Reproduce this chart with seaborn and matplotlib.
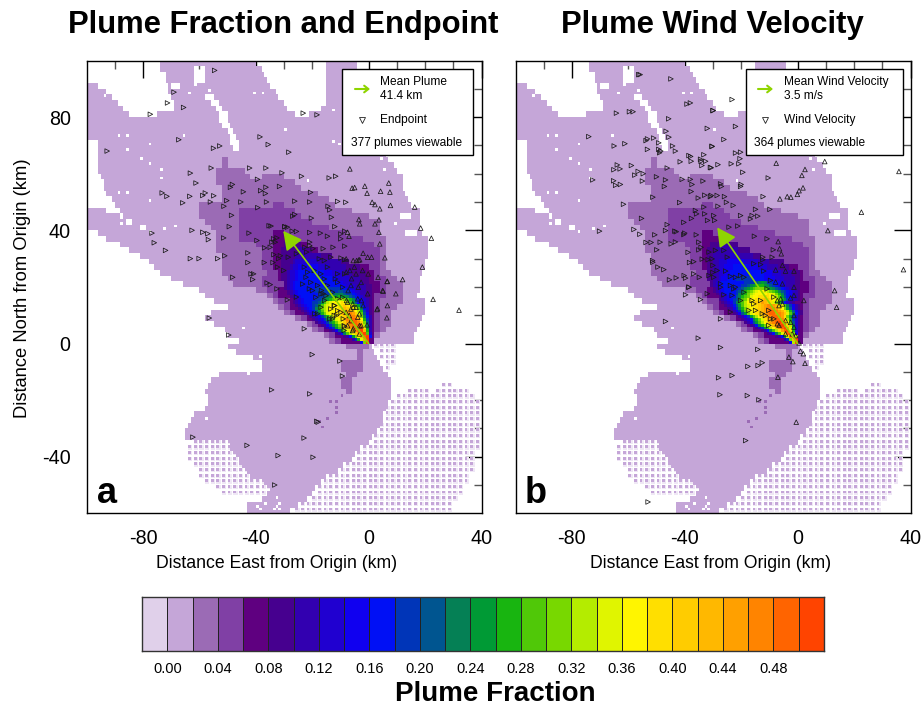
import numpy as np
import seaborn as sns
import matplotlib.pyplot as plt
from matplotlib.colors import ListedColormap
from matplotlib.lines import Line2D
from matplotlib.patches import FancyArrowPatch, Rectangle

# colour per level, first box of the colour bar is level 0
LEVEL_COLORS = ["#e0d0ea", "#c5a6d8", "#9b6bb5", "#8040a5", "#5f0080", "#46008f", "#3200b0",
                "#2000d0", "#1000f0", "#0010f5", "#0035b8", "#005590", "#058055", "#009a35",
                "#18b510", "#50c808", "#78d800", "#b4ec00", "#e0f500", "#fff500", "#ffdf00",
                "#ffcc00", "#ffb800", "#ffa000", "#ff8400", "#ff6400", "#ff4400"]
RIM_COLOR = "#efe7f5"
CBAR_LABELS = ["0.00", "0.04", "0.08", "0.12", "0.16", "0.20", "0.24", "0.28", "0.32",
               "0.36", "0.40", "0.44", "0.48"]

# level 1 coverage, row centre (km north): spans km east, rows are 2 km tall
outer_rows = {
    99: [(-74, -40), (-15, -4)], 97: [(-74, -38), (-15, -4)], 95: [(-72, -37), (-15, -4)],
    93: [(-72, -36), (-15, -3)], 91: [(-100, -96), (-71, -35), (-15, -2)],
    89: [(-100, -93), (-71, -33), (-15, -1)], 87: [(-100, -91), (-70, -32), (-15, 0)],
    85: [(-100, -89), (-69, -30), (-15, 1)], 83: [(-100, -87), (-69, -29), (-17, 2)],
    81: [(-100, -85), (-75, -26), (-21, 3)], 79: [(-100, 4)], 77: [(-100, 4)], 75: [(-100, 4)],
    73: [(-100, 5)], 71: [(-96, 5)], 69: [(-96, 6)], 67: [(-96, 6)], 65: [(-96, 7)],
    63: [(-96, 9)], 61: [(-96, 10)], 59: [(-95, 12)], 57: [(-94, 12)], 55: [(-94, 12)],
    53: [(-93, 13)], 51: [(-91, 14)], 49: [(-90, 15)], 47: [(-100, -93), (-88, 18)],
    45: [(-100, -88), (-87, 18)], 43: [(-100, -86), (-84, 18)], 41: [(-100, -81), (-79, 18)],
    39: [(-96, 19)], 37: [(-93, 21)], 35: [(-88, 21)], 33: [(-85, 21)], 31: [(-81, 21)],
    29: [(-78, 20)], 27: [(-76, 20)], 25: [(-74, 19)], 23: [(-70, 18)], 21: [(-66, 18)],
    19: [(-60, 18)], 17: [(-58, 17)], 15: [(-55, 20)], 13: [(-50, 20)], 11: [(-56, 20)],
    9: [(-58, 19)], 7: [(-55, 18)], 5: [(-51, 17)], 3: [(-50, 16)], 1: [(-46, 16)],
    -1: [(-50, 1)], -3: [(-47, 2)], -5: [(-41, 3)], -7: [(-38, 4)], -9: [(-38, 5)],
    -11: [(-53, 7)], -13: [(-56, 8)], -15: [(-57, 8)], -17: [(-58, 8)], -19: [(-57, 8)],
    -21: [(-57, 7)], -23: [(-58, 6)], -25: [(-62, 5)], -27: [(-63, 5)], -29: [(-64, 4)],
    -31: [(-65, 3)], -33: [(-65, 1)], -35: [(-49, 0)], -37: [(-49, -3)], -39: [(-47, -5)],
    -41: [(-46, -6)], -43: [(-45, -9)], -45: [(-43, -11)], -47: [(-42, -15)], -49: [(-37, -17)],
    -51: [(-35, -19)], -53: [(-36, -20)], -55: [(-38, -22)], -57: [(-43, -25)], -59: [(-43, -28)],
}
# far field where only every other km has a value
dotted_rows = {
    -1: [(2, 10)], -3: [(3, 10)], -5: [(4, 10)], -7: [(5, 10)], -9: [(6, 8)],
    -15: [(25, 30)], -17: [(14, 22), (23, 36)], -19: [(9, 38)], -21: [(8, 40)], -23: [(6, 40)],
    -25: [(5, 40)], -27: [(5, 40)], -29: [(4, 40)], -31: [(4, 40)], -33: [(2, 40)],
    -35: [(-63, -49), (1, 40)], -37: [(-64, -49), (-2, 39)], -39: [(-65, -47), (-4, 38)],
    -41: [(-65, -46), (-5, 38)], -43: [(-63, -45), (-8, 38)], -45: [(-61, -43), (-10, 37)],
    -47: [(-60, -42), (-14, 35)], -49: [(-58, -37), (-16, 35)], -51: [(-55, -35), (-18, 34)],
    -53: [(-52, -36), (-19, 33)], -55: [(-21, 31)], -57: [(-24, 30)], -59: [(-27, 30)],
}
# white channel through the upper lobe
channel_rows = {97: (-62, -58), 95: (-62, -58), 93: (-62, -58), 91: (-70, -67), 87: (-58, -55),
                85: (-56, -53), 83: (-54, -52), 81: (-53, -50), 79: (-53, -50), 77: (-52, -49),
                75: (-50, -48), 73: (-49, -47), 71: (-49, -46), 69: (-48, -46), 45: (11, 15),
                39: (13, 17)}
hole_x = [-86, -86, -89, -94, -74, -74, -78, -66, -81, -78, -89, -86, -78, -69, -78, -73, -88,
          -41, -38, -64, -62, -57, -13, -13, -11, -30, 5, -22, 9, 4, -39, -58, -45, -43,
          -33, -32, -33, -34, -32, -37, -39, -40]
hole_y = [73, 68, 73, 87, 61, 58, 70, 73, 65, 63, 53, 53, 50, 41, 39, 40, 42,
          88, 88, 88, 91, 89, 82, 71, 70, 75, 61, 57, 42, 65, -5, -27, 5, -11,
          -55, -57, -58, -59, -59, -57, -59, -58]
spot_x = [-10, -14, -12, -12, -12, -18, -15, -17]
spot_y = [-19, -21, -21, -23, -25, -28, -27, -30]

# shared levels 2-4: one char per 2 km from 62 km west, count*level
mid_rows = {
    65: "5*. 1*2", 63: "5*. 1*2", 61: "4*. 5*2", 59: "4*. 6*2 2*. 4*2", 57: "4*. 14*2",
    55: "5*. 14*2", 53: "5*. 17*2", 51: "5*. 19*2", 49: "1*. 13*2 2*3 9*2",
    47: "1*. 7*2 10*3 10*2", 45: "1*. 7*2 11*3 12*2", 43: "2*. 6*2 13*3 12*2",
    41: "3*. 5*2 16*3 9*2", 39: "4*. 4*2 6*3 2*4 11*3 6*2", 37: "4*. 4*2 6*3 4*4 12*3 4*2",
    35: "4*. 7*2 3*3 6*4 12*3 2*2", 33: "4*. 8*2 2*3 8*4 11*3 1*2",
    31: "5*. 7*2 2*3 10*4 9*3 1*2", 29: "5*. 7*2 2*3 13*4 6*3 1*2",
    27: "5*. 7*2 2*3 17*4 2*3 1*2", 25: "5*. 8*2 2*3 17*4 1*3 2*2",
    23: "6*. 6*2 3*3 17*4 2*3 2*2", 21: "7*. 5*2 4*3 17*4 1*3 3*2",
    19: "11*. 2*2 2*3 18*4 1*3 3*2", 17: "13*. 1*2 1*3 17*4 2*3 3*2",
    15: "14*. 1*2 2*3 15*4 1*3 4*2", 13: "15*. 1*2 1*3 15*4 1*3 3*2",
    11: "16*. 1*2 1*3 14*4 1*3 2*2", 9: "18*. 1*2 1*3 12*4 1*3 2*2",
    7: "20*. 1*2 1*3 10*4 1*3 2*2", 5: "21*. 1*2 1*3 9*4 1*3 1*2", 3: "23*. 1*2 1*3 7*4 1*2",
    1: "24*. 1*2 1*3 6*4", -1: "27*. 4*2", -3: "29*. 1*2", -5: "29*. 1*2", -7: "26*. 4*2",
    -9: "26*. 4*2", -11: "27*. 2*2", -13: "26*. 2*2", -15: "26*. 2*2", -17: "27*. 1*2",
}

# plume core, base-36 levels. upper rows are 2 km tall, lower rows 1 km: y, first km east, cells
core_a_upper = [
    (35, -30, "555555"), (33, -31, "55555566555"), (31, -31, "555556666666665555"),
    (29, -31, "555567777777766666666555"),
    (27, -31, "5556778888888777766666655555"),
    (25, -31, "556778999999999888777766655555"),
    (23, -31, "5567789999999999998877776666555"),
]
core_a_lower = [
    (21, -30, "567899999999999999988777666655"),
    (20, -30, "5678999999999999999988777666655"),
    (19, -30, "56789999999aaaaaaaaa99887766655"),
    (18, -29, "5678999999aaaaaaaabbaa98776655"),
    (17, -29, "56789999999aaaabbcccbaa9876655"),
    (16, -28, "5678999999aabccddeddcba987655"),
    (15, -27, "56789999aabcdefghhgfeca98765"),
    (14, -27, "5678999aabdfhijjjkjhfdb98765"),
    (13, -26, "567899abdfhijjjkklkjhfda865"),
    (12, -25, "56789aceghijjjklmlkjhfc975"),
    (11, -24, "56789bdfhijjkkmnnmljhea75"),
    (10, -23, "5678acegijjkkmnnonlifb85"),
    (9, -21, "5678acegijkklnoonkgc96"),
    (8, -20, "5678acegijkmooppnjea6"),
    (7, -19, "5678acegijlnpppolgb6"),
    (6, -17, "568acegikmopppnhc6"),
    (5, -16, "568adfhjlnoppqkd6"),
    (4, -14, "568begikmopqme6"),
    (3, -12, "569cfhjlnpqf7"),
    (2, -9, "569dgjmpq9"),
    (1, -6, "6aeinq"),
    (0, -3, "8gq"),
]
core_b_upper = [
    (35, -31, "5556666555"), (33, -32, "555666666665555"), (31, -32, "5566666677766666555"),
    (29, -32, "556677788888877777666655555"), (27, -32, "55667788899999888877766665555"),
    (25, -32, "556677889999999999998887776666555"),
    (23, -32, "5566788999aaaaaa99998888777666655"),
]
core_b_lower = [
    (21, -31, "567899999999aaaabcdcaa9987766655"),
    (20, -31, "56789999999aabcdeeedcba987766655"),
    (19, -30, "567899999abcdefgggfedcba9876655"),
    (18, -30, "56789999abcefghijjihgfecba98765"),
    (17, -29, "5678999acdeghijjjjkjigeca98765"),
    (16, -28, "567899bcefgijjkklkjihfdb98765"),
    (15, -28, "56789abdfgijjkklmlkjigeca8765"),
    (14, -27, "5678acefhjjkllnmlkigeb9765"),
    (13, -26, "5679bdfhijkklmnoonmkifca865"),
    (12, -25, "568acegijjklmnooonljgdb865"),
    (11, -24, "568adfhjjklmnopponmkheb865"),
    (10, -23, "568bdgijkkmnoppoonlifc965"),
    (9, -21, "568adfhjkmnopponkgda75"),
    (8, -20, "5679cegikmnoppolhea75"),
    (7, -19, "568bdfhjlnopqpnjfb75"),
    (6, -17, "569cegikmopqplhc75"),
    (5, -15, "57adfhjlnpqnid75"),
    (4, -13, "569cfhknpqke75"),
    (3, -11, "569cfimpqg8"),
    (2, -8, "569dioqh"),
    (1, -5, "6agmq"),
    (0, -3, "8hq"),
]

# endpoints, km east and km north
end_a_x = [-54.6, -69, -71.3, -65.6, -77.4, -67.3, -55, -52.8, -38.5, -35.6, -92.7, -55.8, -63.2, -42.2,
           -36.4, -30.7, -61.2, -39.4, -36.4, -31.6, -73.2, -71.5, -63.4, -57.9, -58.8, -54.9, -49, -48.3,
           -44.4, -38.3, -36.6, -65.9, -56.1, -50.3, -51.3, -45.3, -39.3, -36.2, -48.6, -49.4, -35.3, -34.6,
           -29.7, -62.6, -76.8, -58.8, -57, -56.8, -51.4, -42.4, -39.6, -76, -72, -63.2, -60.1, -53.5, -51,
           -42.8, -42.8, -36.9, -34.9, -33.7, -32.5, -34.3, -33.1, -33.6, -31.9, -31.3, -37, -33.9, -32.3,
           -30.1, -48.2, -41.7, -40.8, -41.1, -36, -34.9, -32.5, -23.2, -18.3, -28.3, -6.7, -23.8, -14, -11.7,
           -5.9, -5, -1.4, -0.6, 4.2, 7.5, 7.1, -20.6, -26.2, -20.9, -14.4, -11, -8.1, -13.8, 1.2, 2.2, 3.9,
           7.7, 16.3, -26.2, -26.9, -20.3, -13.2, -3.5, -3.2, -12, 3.6, 2.2, -29.7, -28.8, -27.1, -25.6, -20.9,
           -17.1, -14.6, -9.9, -9.9, -8.5, -7.5, -7, -8.5, 3.6, 3.9, -2, -0.4, 1, 5.7, -5.5, -4.3, -3.2, -8.5,
           -12.6, -16.1, -20.9, -20.9, -19.7, -22.6, -22, -25.6, -28.5, 22.2, 18.4, 19, 12, 6.6, 3.3, -0.2,
           -6.7, -6.1, -8.5, -3.6, -9.8, -8, -13.4, -17.5, -15.7, -14.6, -22.8, -21.6, -19.3, -16.9, -15.7,
           -22.2, -23.4, -20.5, -18.1, -14.6, -12.8, -19.9, -16.9, -18.7, -21, -15.1, -11, -11.8, -11, -8,
           -5.1, -4.5, -2.7, -2.2, -9.2, -6.3, -9.2, -7.5, -5.7, -4.5, -3.9, -6.3, -12.2, -13.4, -11, -9.8,
           -8, -6.9, -6.3, -3.9, -11, -16.9, -18.1, -12.2, -12.8, -8.7, -7.5, -5.7, -3.3, -3.3, -8.7, -22.8,
           -2.7, -3.3, 6.5, 4.9, 2.9, -28.8, -25.6, -19.1, -13.8, -11.4, -8.5, -5.5, -0.6, -2, 3.1, 6.4, 6.6,
           5.1, 9.6, -0.4, -7.3, -3.7, -2.6, -5.5, -7.9, -9, -12, -16.1, -15.6, -16.7, -20, -10.2, -9.3, -20.9,
           -17.9, -18.4, -22.9, -19.7, 22.8, 32, -56.5, -49.6, -34.4, -62.3, -43.1, -32.1, -33.3]
end_a_y = [96.5, 88.8, 85, 83.4, 81, 72, 69, 69.8, 73, 70.3, 68, 62, 60.2, 62,
           62, 60.3, 56.7, 58, 55.2, 55.5, 53.2, 52, 52, 53.2, 52.3, 52.2, 55.2, 56.2,
           53.6, 54, 53, 49.7, 50, 50.5, 48.5, 50, 48, 50, 45.3, 41.3, 41.6, 41.5,
           41.2, 40, 39, 39.3, 38.8, 36.7, 37.3, 39, 36.4, 35.6, 32.9, 30, 30, 30, 31,
           32, 28.6, 33.8, 34, 37, 37.3, 35.8, 35.8, 31.4, 30, 31, 28.6, 28.6, 27,
           25.8, 23.4, 24.6, 24.6, 22.6, 21.4, 20.8, 19.3, 81.4, 80.8, 67.6, 61.7, 59.1, 58.5, 59.1,
           54.9, 55.1, 55.6, 53.1, 53.8, 53.5, 56.7, 53.4, 50.3, 50, 48.5, 50.2, 49.9, 47.2, 49.9, 49.1, 47.6,
           48.8, 48.2, 45.6, 45, 44.3, 44.6, 43.8, 42.3, 41.3, 43.7, 42.3, 41.3, 41.1, 39.7, 39.6, 39.2,
           39, 37.9, 38.7, 37, 39.7, 39.3, 37.9, 34.4, 39.3, 35.2, 31.9, 30.5, 30.5, 30.3, 29.3, 29.3, 29.6, 29.6,
           34, 33.5, 35.8, 34.6, 33.5, 34, 32.3, 31.7, 30.5, 37.2, 40.8, 27, 22.6, 22, 23.4, 24.6,
           25.8, 22.9, 24.6, 29.5, 30.2, 29.9, 30.5, 29.9, 29.3, 27, 27, 25.2, 25.8, 24.6, 22.8,
           23.4, 21, 21.6, 20.5, 20.5, 18.1, 18.7, 17.5, 16.3, 19.3, 16.9, 24.6, 22.8, 21.6, 25.2,
           27, 24.6, 21.6, 25.8, 19.9, 20.5, 16.3, 14.6, 14, 12.8, 15.8, 12.2, 13.4, 12.2, 11.6, 11,
           11, 9.9, 8.1, 9.3, 15.8, 12.8, 10.5, 9.9, 8.7, 6.3, 6.3, 4.6, 6.3, 3.4, 4.6, 5.2,
           6.3, 10.5, 21.9, 18.7, 12, 15.4, 16.4, 10.5, 8.7, 9.9, 6, 5.2, 6.6, 13.4, 12.3, 9.1, 13.4,
           18.5, 17.6, 17.6, 18.7, 19.9, 15.2, 12.8, 15.2, 8.7, 13.4, 17.6, 15.2, 18.7, -3.9, -6.2, -11.5, -17.8,
           -27.8, -27.5, -33.4, -40.2, 15.6, 11.8, 9, 3, -16.4, -33.1, -36, -39.6, -50]

end_b_x = [-56.3, -55.8, -44.9, -38, -39.2, -30, -64.2, -59.6, -58.3, -45.7, -32, -46.6, -45.6, -74, -53.7, -53.2,
           -51, -49.2, -65, -61.2, -30.3, -44.3, -53.2, -49.2, -48.5, -48.9, -43.3, -38.5, -37.9, -33.2, -41.6,
           -37.7, -34.4, -34.2, -32.6, -33.9, -30.9, -58.9, -63.9, -65.1, -62.9, -46.2, -56.5, -57.7, -54.7, -50,
           -72.6, -65.2, -64.5, -62.8, -55, -46.8, -40.9, -38, -33.5, -47.2, -37.4, -37.7, -51.3, -35.2, -32.9,
           -30.9, -41.8, -61.7, -33.2, -36.2, -35.8, -32.9, -55.3, -37.6, -31.9, -40.3, -46.2, -58, -55.9, -70.2,
           -46.8, -43.5, -43, -40, -40.3, -50.6, -35.9, -53.7, -51.9, -48.7, -44.8, -43.3, -49.9, -38.8, -35,
           -34.2, -35, -31.4, -51.4, -51.3, -49.5, -47.4, -38.3, -36.8, -33.8, -31.7, -30, -45.4, -43, -40.2,
           -39.7, -36.8, -34.8, -31.4, -30, -38.5, -23.2, -29.9, -22, -26.1, -30.3, -22, -20.2, -20.4, -20.8,
           -23.5, -28.2, -30.6, -19.4, -7.6, 9.6, 2.6, 1.5, -10.4, 35.9, -27.3, -27, -20.2, -20, -28.5, -25.9,
           -30.6, -12.2, -6.3, -3.7, -2.4, -0.1, 0.5, 1.9, -28.2, -25.2, -22.8, -14.9, -9.8, -20.2, -16.7, -16.1,
           -14.1, -29.7, -29.4, -24.3, -21.2, -15.3, 22.6, 10.7, -10.8, -6.9, -29.1, -30.3, -26.1, -24.9, -8.6,
           -6.4, -5.8, -9, -12.3, -15.5, -13.1, -12, -7.8, -5.4, -4.3, -1.3, -12.3, 37.5, -23.8, -22, -20.2,
           -28.5, -25.5, -29.7, -27.3, -23.8, -22, -19, -9.6, -7.8, -5.4, 13.1, 13.8, 2.2, -1.3, -1.3, -2.5,
           -27.3, -26.1, -23.2, -22.6, -20.2, -19, -16.1, -15.5, -13.1, -10.8, -8.4, -7.2, -6.6, -5.4, -6, -11.4,
           -23.8, -17.2, -14.9, -27.3, -12.5, -10.2, -8.4, -10.2, -7.2, -4.3, -2.5, -4.3, -1.9, -0.7, -1.3, -1.3,
           0.5, -6.6, -9.6, -27.3, -14.1, -17.6, -14, -12.5, -3.1, -1.7, 2.6, 1, 2, -7, -28, -23.2, -27.5,
           -17.8, -13.7, -0.5, -18.4, -38.5, -39.7, -34.4, -32, -46.8, -35.2, -53]
end_b_y = [95, 95, 93.5, 85, 84.6, 82.3, 81.4, 81.9, 81.9, 79.4, 76, 75, 72.9, 73.1, 71.7, 72.3,
           72.6, 70.9, 69.8, 70.6, 69.6, 69.8, 68.6, 68.6, 68, 67.4, 68, 66.4, 66.1, 66.7, 64.2,
           64.4, 65.1, 64.4, 64.4, 62.9, 62.2, 62.9, 63.1, 61.4, 61.7, 62, 60.8, 59.5, 60, 58.9,
           57.8, 57.5, 55.9, 56.2, 57.4, 57.8, 58, 58, 57.4, 55.5, 56.2, 53.7, 51.7, 51.4, 52.4,
           51.9, 49.8, 49.2, 48.2, 47, 45.8, 45.8, 44.2, 44.2, 43.5, 42.8, 42, 40.3, 38.6, 39.7,
           39.9, 39.7, 39.5, 39, 38.5, 38.4, 38.4, 35.7, 35.7, 35.8, 35.2, 35.9, 33.1, 32.2, 33.1,
           34, 35.8, 32.3, 29.3, 28.7, 27, 26.1, 28.6, 28.9, 29.8, 29.6, 27.6, 22.5, 23.2, 24,
           23.1, 24.6, 23.4, 24, 25.1, 19.9, 86.2, 82.3, 76.7, 72.1, 69.7, 67.3, 67.6, 65.3, 63.5,
           63.5, 63.2, 62.1, 60.5, 63.7, 64.3, 61.5, 59.4, 58.5, 60.8, 56.4, 55.5, 55.5, 56.2, 52.3, 51.9,
           52.3, 51.9, 51.1, 51.9, 51.7, 52.7, 54, 55, 48.5, 49.9, 48.8, 47.4, 47.4, 45.2, 44, 45.2,
           45, 45.2, 43.5, 41.1, 41.5, 37.9, 46.4, 39.9, 37, 36, 32.9, 29.9, 32.9, 30.5, 33.1,
           33.5, 31.7, 30.5, 30.5, 28.2, 27.9, 25.6, 26, 27.6, 25.6, 25.6, 29.6, 26.1, 23.7, 23.4, 24,
           25.8, 25.6, 23.4, 21.1, 20.5, 19.9, 23.4, 22.3, 21.7, 21.1, 18.7, 12.8, 15.2, 19.9, 17, 16.1,
           19.9, 17.2, 17, 19.3, 15.2, 18.1, 15.2, 14, 15.2, 19.3, 16.4, 15.2, 13.4, 14, 15.8, 9.9,
           11.1, 11.7, 11.7, 8.7, 10.5, 11.7, 8.7, 6.4, 7, 8.1, 7.5, 3.4, 3.4, 2.8, 9.9, 5.8,
           0.2, 6.4, 8.7, -1.4, -2.1, -8.1, -7.8, -6.8, -4.8, -6.4, -7, -2.7, -3.6, -11.9, -12.1, -11.3, -18.1,
           -18.4, -19.9, -27.8, -34.3, 19.9, 17.2, 15.5, 17.6, 7.8, 1.9, -56]

arrow_tip_a = (-30.3, 39.8)
arrow_tip_b = (-28.5, 41)

FIG_W, FIG_H = 921, 708
GREEN = "#8fd400"
PER_KM = 2  # heatmap cells per km, half km lets the far field dots keep a pale rim
RIM_LEVEL = len(LEVEL_COLORS)


def to_fig(px, py):
    return px / FIG_W, 1 - py / FIG_H


def rle(row):
    # "5*. 2*3" -> ".....33"
    out = ""
    for token in row.split():
        n, lev = token.split("*")
        out += lev * int(n)
    return out


def put(grid, x, y, lev):
    r, c = (99 - y) * PER_KM, (x + 100) * PER_KM
    if 0 <= r < grid.shape[0] and 0 <= c < grid.shape[1]:
        grid[r:r + PER_KM, c:c + PER_KM] = lev


def putDot(grid, x, y):
    put(grid, x, y, 1)
    r, c = (99 - y) * PER_KM, (x + 100) * PER_KM
    # pale rim on two sides
    if r + 2 < grid.shape[0] and c + 2 < grid.shape[1]:
        grid[r:r + 3, c + 2] = RIM_LEVEL
        grid[r + 2, c:c + 3] = RIM_LEVEL


def buildGrid(core_upper, core_lower):
    grid = np.full((160 * PER_KM, 140 * PER_KM), np.nan)
    for yc, spans in dotted_rows.items():
        for x0, x1 in spans:
            for x in range(x0, x1):
                if x % 2 == 0:
                    putDot(grid, x, yc)
    for yc, spans in outer_rows.items():
        for x0, x1 in spans:
            for x in range(x0, x1):
                put(grid, x, yc - 1, 1)
                put(grid, x, yc, 1)
    for yc, (x0, x1) in channel_rows.items():
        for x in range(x0, x1):
            put(grid, x, yc - 1, np.nan)
            put(grid, x, yc, np.nan)
    for x, y in zip(hole_x, hole_y):
        put(grid, x, y, np.nan)
    for x, y in zip(spot_x, spot_y):
        put(grid, x, y, 2)
    for yc, row in mid_rows.items():
        for i, ch in enumerate(rle(row)):
            if ch == ".":
                continue
            for x in (-62 + 2 * i, -61 + 2 * i):
                put(grid, x, yc - 1, int(ch))
                put(grid, x, yc, int(ch))
    for yc, x0, cells in core_upper:
        for i, ch in enumerate(cells):
            put(grid, x0 + i, yc - 1, int(ch, 36))
            put(grid, x0 + i, yc, int(ch, 36))
    for y, x0, cells in core_lower:
        for i, ch in enumerate(cells):
            put(grid, x0 + i, y, int(ch, 36))
    return grid


def drawPanel(box, grid, xs, ys, tip, show_y):
    left, top, right, bottom = box
    x0, y0 = to_fig(left, bottom)
    x1, y1 = to_fig(right, top)
    ax = fig.add_axes([x0, y0, x1 - x0, y1 - y0])
    sns.heatmap(grid, ax=ax, cmap=panel_cmap, vmin=-0.5, vmax=RIM_LEVEL + 0.5, cbar=False,
                xticklabels=False, yticklabels=False)
    for spine in ax.spines.values():
        spine.set_visible(True)
        spine.set_linewidth(1.0)
        spine.set_color("black")

    xs = np.array(xs)
    ys = np.array(ys)
    left_side = xs < -8
    for mask, mark in ((left_side, ">"), (~left_side, "^")):
        sns.scatterplot(x=(xs[mask] + 100) * PER_KM, y=(100 - ys[mask]) * PER_KM, ax=ax, marker=mark, s=11,
                        facecolor="none", edgecolor="#1a1a1a", linewidth=0.55, zorder=3)
    ax.annotate("", xy=((tip[0] + 100) * PER_KM, (100 - tip[1]) * PER_KM),
                xytext=(100 * PER_KM, 100 * PER_KM),
                arrowprops=dict(arrowstyle="-|>,head_length=0.95,head_width=0.5", mutation_scale=12,
                                lw=1.2, color=GREEN, shrinkA=0, shrinkB=0), zorder=4)

    ax.set_xlim(0, 140 * PER_KM)
    ax.set_ylim(160 * PER_KM, 0)
    ax.set_xticks((np.arange(-80, 41, 40) + 100) * PER_KM)
    ax.set_xticklabels(["-80", "-40", "0", "40"])
    ax.set_xticks((np.arange(-90, 40, 10) + 100) * PER_KM, minor=True)
    ax.set_yticks((100 - np.arange(-40, 81, 40)) * PER_KM)
    ax.set_yticklabels(["-40", "0", "40", "80"] if show_y else [])
    ax.set_yticks((100 - np.arange(-50, 100, 10)) * PER_KM, minor=True)
    ax.tick_params(which="major", direction="in", length=12, width=1.0, top=True, right=True,
                   labelsize=14.2, pad=11.5, color="black", labelrotation=0)
    ax.tick_params(which="minor", direction="in", length=6, width=1.0, top=True, right=True,
                   color="#555555")
    return ax


def drawLegend(box, arrow_x, text_x, lines, marker_x, count_x):
    left, top, right, bottom = box
    x0, y0 = to_fig(left, bottom)
    x1, y1 = to_fig(right, top)
    fig.add_artist(Rectangle((x0, y0), x1 - x0, y1 - y0, transform=fig.transFigure,
                             facecolor="white", edgecolor="black", lw=1.0, zorder=5))
    fig.add_artist(FancyArrowPatch(to_fig(arrow_x[0], 89), to_fig(arrow_x[1], 89),
                                   transform=fig.transFigure, arrowstyle="->,head_length=3,head_width=2.4",
                                   lw=1.5, color=GREEN, shrinkA=0, shrinkB=0, zorder=6))
    fig.add_artist(Line2D([marker_x / FIG_W], [1 - 120 / FIG_H], marker="v", ms=4.5, mfc="none", mec="#222222",
                          mew=0.6, ls="none", transform=fig.transFigure, zorder=6))
    for (text, py) in zip(lines, (82, 96, 120)):
        fx, fy = to_fig(text_x, py)
        fig.text(fx, fy, text, fontsize=8.6, va="center", zorder=6)
    fx, fy = to_fig(count_x, 143)
    fig.text(fx, fy, lines[3], fontsize=8.6, va="center", zorder=6)


sns.set_theme(style="white")
plt.rcParams["font.family"] = ["Liberation Sans", "DejaVu Sans"]
plt.rcParams["text.color"] = "black"
plt.rcParams["xtick.color"] = "black"
plt.rcParams["ytick.color"] = "black"
cmap = ListedColormap(LEVEL_COLORS)
panel_cmap = ListedColormap(LEVEL_COLORS + [RIM_COLOR])

fig = plt.figure(figsize=(FIG_W / 100, FIG_H / 100), dpi=100)

box_a = (86.6, 60.5, 481.6, 513.3)
box_b = (515.5, 60.5, 910.5, 513.3)
drawPanel(box_a, buildGrid(core_a_upper, core_a_lower), end_a_x, end_a_y, arrow_tip_a, True)
drawPanel(box_b, buildGrid(core_b_upper, core_b_lower), end_b_x, end_b_y, arrow_tip_b, False)

drawLegend((342.3, 69.3, 473.3, 155), (355, 370), 380,
           ["Mean Plume", "41.4 km", "Endpoint", "377 plumes viewable"], 361.7, 350.5)
drawLegend((745.7, 69.3, 902.7, 155), (758, 773), 783.5,
           ["Mean Wind Velocity", "3.5 m/s", "Wind Velocity", "364 plumes viewable"], 765, 754)

for cx, text in ((283, "Plume Fraction and Endpoint"), (712, "Plume Wind Velocity")):
    fx, fy = to_fig(cx, 25)
    fig.text(fx, fy, text, fontsize=22.3, fontweight="bold", ha="center", va="center")
for cx in (277, 711):
    fx, fy = to_fig(cx, 563)
    fig.text(fx, fy, "Distance East from Origin (km)", fontsize=12.7, ha="center", va="center")
fx, fy = to_fig(23, 288)
fig.text(fx, fy, "Distance North from Origin (km)", fontsize=13.2, rotation=90, ha="center", va="center")
for px, text in ((97, "a"), (525, "b")):
    fx, fy = to_fig(px, 503)
    fig.text(fx, fy, text, fontsize=26, fontweight="bold", va="baseline", zorder=6)

# colour bar drawn as its own one-row heatmap
x0, y0 = to_fig(142, 651)
x1, y1 = to_fig(824, 597)
cax = fig.add_axes([x0, y0, x1 - x0, y1 - y0])
sns.heatmap(np.arange(len(LEVEL_COLORS)).reshape(1, -1), ax=cax, cmap=cmap, vmin=-0.5, vmax=26.5, cbar=False,
            linewidths=0.7, linecolor="#222222", xticklabels=False, yticklabels=False)
for spine in cax.spines.values():
    spine.set_visible(True)
    spine.set_color("#333333")
    spine.set_linewidth(1.0)
cax.set_xticks(np.arange(1, 26, 2))
cax.set_xticklabels(CBAR_LABELS)
cax.tick_params(axis="x", length=0, labelsize=10.5, pad=8, labelrotation=0)
fx, fy = to_fig(495, 694)
fig.text(fx, fy, "Plume Fraction", fontsize=20, fontweight="bold", ha="center", va="center")

fig.savefig("out.png", dpi=100)
